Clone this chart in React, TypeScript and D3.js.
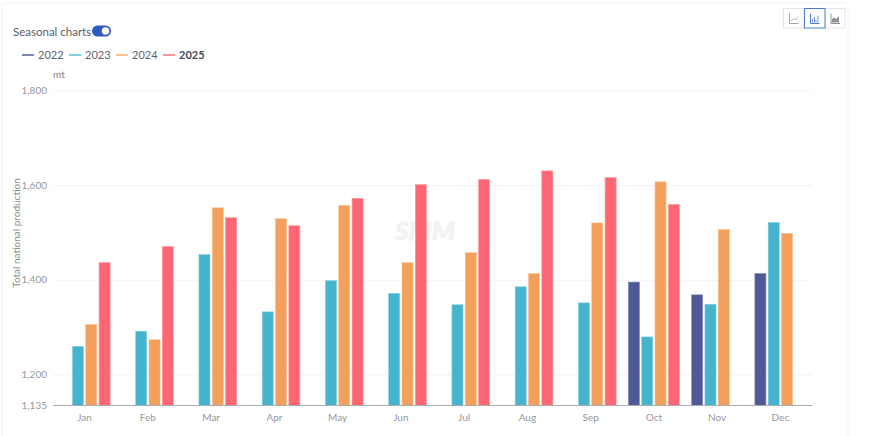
import React from "react";
import * as d3 from "d3";

const months = ["Jan","Feb","Mar","Apr","May","Jun","Jul","Aug","Sep","Oct","Nov","Dec"];
const years = ["2022","2023","2024","2025"];
const colors = ["#4e5a96","#46b4cc","#f2a05c","#ff6673"];
const legendColors = ["#8088b5","#7fcfdf","#f7c08f","#ff959d"];
const v2022 = [null,null,null,null,null,null,null,null,null,1396,1369,1414];
const v2023 = [1260,1292,1454,1333,1399,1372,1348,1386,1352,1280,1349,1522];
const v2024 = [1306,1274,1553,1530,1558,1437,1458,1414,1521,1608,1507,1499];
const v2025 = [1437,1471,1532,1515,1573,1602,1613,1631,1617,1560,null,null];
const series = [v2022,v2023,v2024,v2025];
const yTicks = [1135,1200,1400,1600,1800];

const font = "Lato, 'Noto Sans', sans-serif";

export default function App() {
  const x = d3.scaleBand<string>().domain(months).range([53,812]);
  const inner = d3.scaleBand<string>().domain(years).range([0,x.bandwidth()]).paddingInner(0.17).paddingOuter(0.46);
  const y = d3.scaleLinear().domain([1135,1800]).range([405.5,91]);
  const line = (pts:[number,number][]) => d3.line()(pts) as string;
  return (
    <svg width={870} height={436} style={{position:"absolute",left:0,top:0,background:"#fff",fontFamily:font}}>
      <rect x={2} y={3} width={846} height={440} rx={4} fill="#fff" stroke="#f1f2f6"/>
      <text x={13} y={36} fontSize={11.5} fill="#5a5e68">Seasonal charts</text>
      <rect x={92} y={25.5} width={19} height={11} rx={5.5} fill="#2f5bc0"/>
      <circle cx={105.5} cy={31} r={3.7} fill="#fff"/>
      {years.map((yr,i)=>{
        const lx = 22+i*47;
        return <g key={yr}>
          <line x1={lx} x2={lx+12} y1={55} y2={55} stroke={legendColors[i]} strokeWidth={2}/>
          <text x={lx+16} y={59} fontSize={11} fill={i===3?"#474b57":"#5d6270"} fontWeight={i===3?700:400}>{yr}</text>
        </g>;
      })}
      <text x={53} y={78} fontSize={10} fill="#808080">mt</text>
      <text x={0} y={0} transform="translate(20,233) rotate(-90)" textAnchor="middle" fontSize={10} fill="#8c8c8c">Total national production</text>
      {yTicks.map(t=><g key={t}>
        {t!==1135 && <line x1={53} x2={812} y1={y(t)} y2={y(t)} stroke="#f2f2f6"/>}
        <text x={47} y={y(t)+3} textAnchor="end" fontSize={10} fill="#96979c">{d3.format(",")(t)}</text>
      </g>)}
      <text x={425} y={240} textAnchor="middle" fontSize={24} fontWeight={900} fontStyle="italic" fill="#f1f2f4" stroke="#f1f2f4" strokeWidth={1} textLength={60} lengthAdjust="spacingAndGlyphs">SMM</text>
      {series.map((vals,i)=>vals.map((v,j)=>v==null?null:(
        <rect key={`${i}-${j}`} x={x(months[j])!+inner(years[i])!} y={y(v)} width={inner.bandwidth()} height={y(1135)-y(v)} fill={colors[i]} stroke={legendColors[i]} strokeWidth={0.6}/>
      )))}
      <line x1={53} x2={812} y1={405.5} y2={405.5} stroke="#a9abb3" strokeWidth={1}/>
      {months.map(m=><text key={m} x={x(m)!+x.bandwidth()/2} y={421} textAnchor="middle" fontSize={10} fill="#96979c">{m}</text>)}
      <g fill="#fff">
        <rect x={783.5} y={8.5} width={20.5} height={19.5} stroke="#e4e5e8"/>
        <rect x={825} y={8.5} width={20} height={19.5} stroke="#e4e5e8"/>
        <rect x={804.5} y={8.5} width={20.5} height={19.5} stroke="#4f7cc9"/>
      </g>
      <path d={line([[789.5,13.5],[789.5,23.5],[798.5,23.5]])} fill="none" stroke="#a0a3aa"/>
      <path d={line([[791,21],[793.5,18.5],[795,20],[798,16.5]])} fill="none" stroke="#b5b8be"/>
      <path d={line([[810.5,13.5],[810.5,23.5],[819.5,23.5]])} fill="none" stroke="#4f7cc9"/>
      <path d={line([[812.5,22.5],[812.5,19]])+line([[814.5,22.5],[814.5,17]])+line([[816,22.5],[816,20]])+line([[818,22.5],[818,15.5]])} fill="none" stroke="#6f95d4"/>
      <path d={line([[831,13.5],[831,23.5],[840,23.5]])} fill="none" stroke="#8e9198"/>
      <path d={line([[832,22.5],[832,19],[834.5,17.5],[836,19],[839,16],[839,22.5]])+"Z"} fill="#8e9198"/>
    </svg>
  );
}
